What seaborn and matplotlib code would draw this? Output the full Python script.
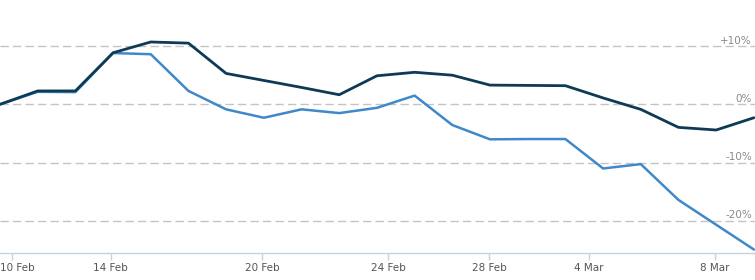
import matplotlib
matplotlib.use("Agg")
import matplotlib.pyplot as plt
import matplotlib.transforms as mtransforms
import seaborn as sns
import pandas as pd

# ---- data (values in %) ----
idx = list(range(21))
dark_vals = [0.0, 2.3, 2.3, 8.85, 10.7, 10.5, 5.3, 4.1, 2.9, 1.65, 4.9, 5.5, 5.0,
             3.3, 3.25, 3.2, 1.1, -0.86, -3.95, -4.4, -2.3]
light_vals = [0.0, 2.15, 2.1, 8.8, 8.6, 2.3, -0.86, -2.3, -0.86, -1.5, -0.6, 1.5, -3.55,
              -6.0, -5.95, -5.95, -11.0, -10.25, -16.4, -20.65, -24.9]
xtick_pos = [0.31, 2.94, 6.96, 10.3, 12.98, 15.63, 18.97]
xtick_labels = ["10 Feb", "14 Feb", "20 Feb", "24 Feb", "28 Feb", "4 Mar", "8 Mar"]
ytick_vals = [10, 0, -10, -20]
ytick_labels = ["+10%", "0%", "-10%", "-20%"]

df = pd.DataFrame({"i": idx, "dark": dark_vals, "light": light_vals})

sns.set_theme(style="white")
plt.rcParams["font.family"] = ["DejaVu Sans"]

fig = plt.figure(figsize=(7.55, 2.8), dpi=100)
ax = fig.add_axes([0, 27 / 280, 1, 253 / 280])

for v in ytick_vals:
    ax.axhline(v, color="#c4c4c4", lw=1, ls=(0, (6, 3)), zorder=1)

sns.lineplot(data=df, x="i", y="light", ax=ax, color="#3f88c9", lw=1.8, zorder=3)
sns.lineplot(data=df, x="i", y="dark", ax=ax, color="#0e3a56", lw=2.0, zorder=4)

ax.set_xlim(0, 20.03)
ax.set_ylim(-25.5, 17.9)
ax.set_xlabel("")
ax.set_ylabel("")
ax.set_yticks([])

lab_tr = ax.get_yaxis_transform() + mtransforms.ScaledTranslation(0, 2.5 / 100, fig.dpi_scale_trans)
for v, lab in zip(ytick_vals, ytick_labels):
    ax.text(0.996, v, lab, transform=lab_tr, ha="right",
            va="baseline", fontsize=7.5, color="#8a8a8a", zorder=5)

ax.set_xticks(xtick_pos)
ax.set_xticklabels(xtick_labels, fontsize=7.5, color="#555555")
ax.tick_params(axis="x", direction="out", length=5, width=1, color="#c5d3e0", pad=2,
               bottom=True)
for s in ["top", "left", "right"]:
    ax.spines[s].set_visible(False)
ax.spines["bottom"].set_color("#c5d3e0")
ax.spines["bottom"].set_linewidth(1)

first = ax.get_xticklabels()[0]
first.set_transform(first.get_transform() +
                    mtransforms.ScaledTranslation(5.5 / 100, 0, fig.dpi_scale_trans))

fig.savefig("out.png", dpi=100)
